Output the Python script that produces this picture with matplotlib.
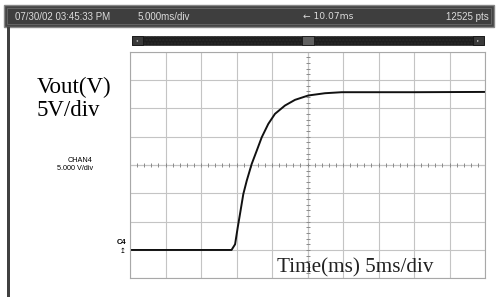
import numpy as np
import matplotlib
matplotlib.use("Agg")
from matplotlib import pyplot as plt
from matplotlib.patches import Rectangle

# trace (time in ms, voltage in V)
t_ms = [0, 14.3, 14.8, 15.17, 15.49, 15.96, 16.44, 17.14, 17.85, 18.55, 19.48,
        20.42, 21.83, 23.24, 25.11, 27.46, 29.82, 40, 50]
v_out = [0, 0, 1.0, 3.96, 6.33, 9.87, 12.22, 15.18, 17.53, 19.88, 22.26,
         24.03, 25.5, 26.5, 27.27, 27.67, 27.85, 27.85, 27.9]

header = ["07/30/02 03:45:33 PM", "5.000ms/div", "\u2190 10.07ms", "12525 pts"]
y_label = ["Vout(V)", "5V/div"]
chan_label = ["CHAN4", "5.000 V/div"]
x_label = "Time(ms) 5ms/div"

W, H = 498, 297
fig = plt.figure(figsize=(W / 100, H / 100), dpi=100)
fig.patch.set_facecolor("white")

# overlay in pixel coordinates for the scope frame
ov = fig.add_axes([0, 0, 1, 1])
ov.set_xlim(0, W)
ov.set_ylim(H, 0)
ov.axis("off")

# header bar
ov.add_patch(Rectangle((4, 5), 490, 22, facecolor="#454545", edgecolor="#888888", lw=1))
ov.add_patch(Rectangle((7, 8), 484, 16, facecolor="#3e3e3e", edgecolor="#6a6a6a", lw=0.6))
hkw = dict(color="#dcdcdc", fontsize=7, va="center", family="Liberation Sans")
ov.text(15, 16.5, header[0], **hkw)
ov.text(138, 16.5, header[1], **hkw)
ov.text(303, 16.5, header[2], **{**hkw, "family": "DejaVu Sans", "fontsize": 6.6})
ov.text(489, 16.5, header[3], ha="right", **hkw)

# left vertical bar
ov.add_patch(Rectangle((7, 27), 3, H - 27, facecolor="#404040", edgecolor="none"))

# scroll bar
ov.add_patch(Rectangle((132, 36), 352, 9, facecolor="#1e1e1e", edgecolor="#2a2a2a", lw=0.5,
                       hatch="....."))
ov.add_patch(Rectangle((132, 36), 11, 9, facecolor="#3a3a3a", edgecolor="#111111", lw=0.5))
ov.add_patch(Rectangle((473, 36), 11, 9, facecolor="#3a3a3a", edgecolor="#111111", lw=0.5))
ov.add_patch(Rectangle((302, 36), 12, 9, facecolor="#606060", edgecolor="#111111", lw=0.5))
ov.text(137.5, 40.5, "\u25c2", color="#cccccc", fontsize=3, ha="center", va="center")
ov.text(478.5, 40.5, "\u25b8", color="#cccccc", fontsize=3, ha="center", va="center")

# labels on the left
ov.text(37, 93, y_label[0], fontsize=16.5, family="Liberation Serif", va="baseline")
ov.text(37, 116, y_label[1], fontsize=16.5, family="Liberation Serif", va="baseline")
ov.text(93, 160, chan_label[0], fontsize=5.2, ha="right", va="center", family="Liberation Sans")
ov.text(93, 168, chan_label[1], fontsize=5.2, ha="right", va="center", family="Liberation Sans")
ov.text(117, 242, "C4", fontsize=5.5, fontweight="bold", va="center", family="Liberation Sans")
ov.text(120, 251, "\u21a5", fontsize=5, va="center", family="DejaVu Sans")

# scope screen
ax = fig.add_axes([130 / W, (H - 278.3) / H, 355 / W, 226.6 / H])
ax.set_xlim(0, 50)
ax.set_ylim(-5, 35)
ax.set_xticks(np.arange(0, 51, 5))
ax.set_yticks(np.arange(-5, 36, 5))
ax.grid(True, color="#c4c4c4", lw=0.8)
ax.tick_params(length=0, labelbottom=False, labelleft=False)
for s in ax.spines.values():
    s.set_color("#a8a8a8")
    s.set_linewidth(0.8)

# center cross tick marks
cx, cy = 25, 15
ax.axhline(cy, color="#c4c4c4", lw=0.8)
ax.axvline(cx, color="#c4c4c4", lw=0.8)
ax.plot(np.arange(0, 50.01, 1.0), np.full(51, cy), ls="none", marker="|",
        ms=3, mew=0.7, color="#8a8a8a")
ax.plot(np.full(41, cx), np.arange(-5, 35.01, 1.0), ls="none", marker="_",
        ms=3, mew=0.7, color="#8a8a8a")

# trace
ax.plot(t_ms, v_out, color="#111111", lw=1.4, solid_joinstyle="round")

ax.text(0.415, 0.005, x_label, transform=ax.transAxes, fontsize=15.2,
        family="Liberation Serif", va="bottom", ha="left", color="#222222")

fig.savefig("out.png", dpi=100)
